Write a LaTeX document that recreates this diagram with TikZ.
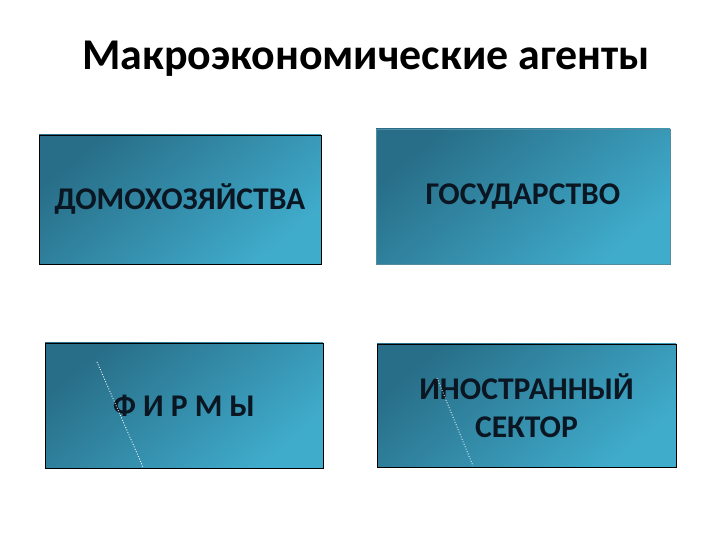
\documentclass[tikz,border=0pt]{standalone}
\usepackage{fontspec}
\setmainfont{Carlito}
\usepackage{tikz}
\usetikzlibrary{calc}
\usetikzlibrary{positioning}

\definecolor{agentDark}{RGB}{40,110,136}
\definecolor{agentLight}{RGB}{64,172,204}
\definecolor{agentText}{RGB}{10,22,34}

\tikzset{
  agent/.style={draw=black, line width=0.4pt, top color=agentDark, bottom color=agentLight,
    shading angle=40, inner sep=0pt, align=center, text=agentText,
    font=\fontsize{18}{21.6}\selectfont\bfseries},
  scratch/.style={white, densely dotted, line width=0.5pt}
}

\begin{document}
\begin{tikzpicture}[x=0.02cm, y=-0.02cm]
    % page frame (pixels of the slide)
    \def\px{0.02cm}
    \fill[white] (0,0) rectangle (720,540);
    \useasboundingbox (0,0) rectangle (720,540);

    % Title
    \node[anchor=base, font=\fontsize{25}{30}\selectfont\bfseries] (title) at (366,70) {Макроэкономические агенты};

    % Upper row of agents
    \node[agent, minimum width={282*\px}, minimum height={129*\px}] (house) at (180,199.5) {ДОМОХОЗЯЙСТВА};
    \node[agent, draw=agentDark!80, minimum width={294*\px}, minimum height={135*\px}] (state) at (523,196.5) {ГОСУДАРСТВО};

    % Lower row of agents
    \node[agent, minimum width={278*\px}, minimum height={125*\px}] (firms) at (184,405.5) {Ф И Р М Ы};
    \node[agent, minimum width={299*\px}, minimum height={123*\px}] (foreign) at (526.5,405.5) {ИНОСТРАННЫЙ\\СЕКТОР};

    % thin white strokes across the lower boxes
    \coordinate (firmsTop) at (97,362);
    \coordinate (firmsEnd) at (143,467);
    \coordinate (foreignTop) at (437,378);
    \coordinate (foreignEnd) at (473,466);
    \draw[scratch] (firmsTop) -- (firmsEnd);
    \draw[scratch] (foreignTop) -- (foreignEnd);

\end{tikzpicture}
\end{document}
